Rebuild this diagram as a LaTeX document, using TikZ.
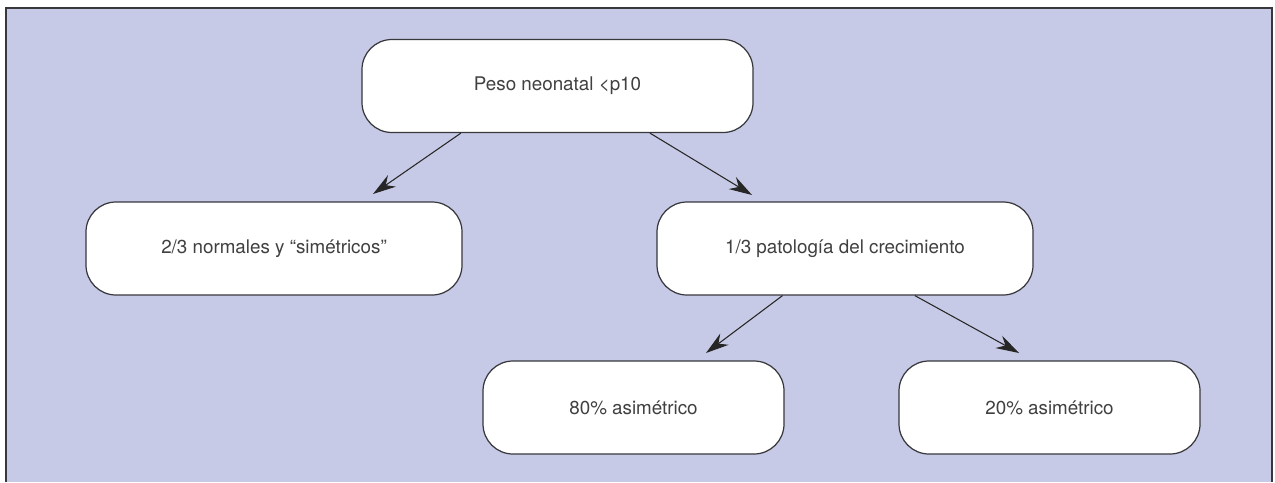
\documentclass[tikz,border=0pt]{standalone}
\usepackage{fontspec}
\setmainfont{TeX Gyre Heros}
\usetikzlibrary{arrows.meta}
\definecolor{fondo}{RGB}{199,202,230}
\definecolor{borde}{RGB}{55,55,60}
\begin{document}
\begin{tikzpicture}[>={Stealth[length=0.46cm,width=0.28cm,inset=0.15cm]},
	caja/.style={draw=borde,line width=0.7pt,fill=white,rounded corners=0.6cm,minimum height=1.86cm,inner sep=0pt,font=\fontsize{10.7}{13}\selectfont,text=black!75},
	flecha/.style={->,line width=0.6pt,black!85}]
	  \useasboundingbox (0,0) rectangle (25.5,-9.64);
	  \fill[fondo] (0.12,-0.16) rectangle (25.44,-9.64);
	  \draw[borde,line width=0.6pt] (0.12,-9.64) -- (0.12,-0.16) -- (25.44,-0.16) -- (25.44,-9.64);
	  \node[caja,minimum width=7.82cm] (p1) at (11.15,-1.72) {Peso neonatal <p10};
	  \node[caja,minimum width=7.52cm] (p2) at (5.48,-4.97) {2/3 normales y “simétricos”};
	  \node[caja,minimum width=7.52cm] (p3) at (16.9,-4.97) {1/3 patología del crecimiento};
	  \node[caja,minimum width=6.02cm] (p4) at (12.67,-8.15) {80\% asimétrico};
	  \node[caja,minimum width=6.02cm] (p5) at (20.99,-8.15) {20\% asimétrico};
	  \coordinate (t2) at (7.46,-3.88);
	  \coordinate (t3) at (15.04,-3.9);
	  \coordinate (t4) at (14.12,-7.06);
	  \coordinate (t5) at (20.38,-7.06);
	  \draw[flecha] (p1.206) -- (t2);
	  \draw[flecha] (p1.333) -- (t3);
	  \draw[flecha] (p3.217) -- (t4);
	  \draw[flecha] (p3.326) -- (t5);
	\end{tikzpicture}
\end{document}
